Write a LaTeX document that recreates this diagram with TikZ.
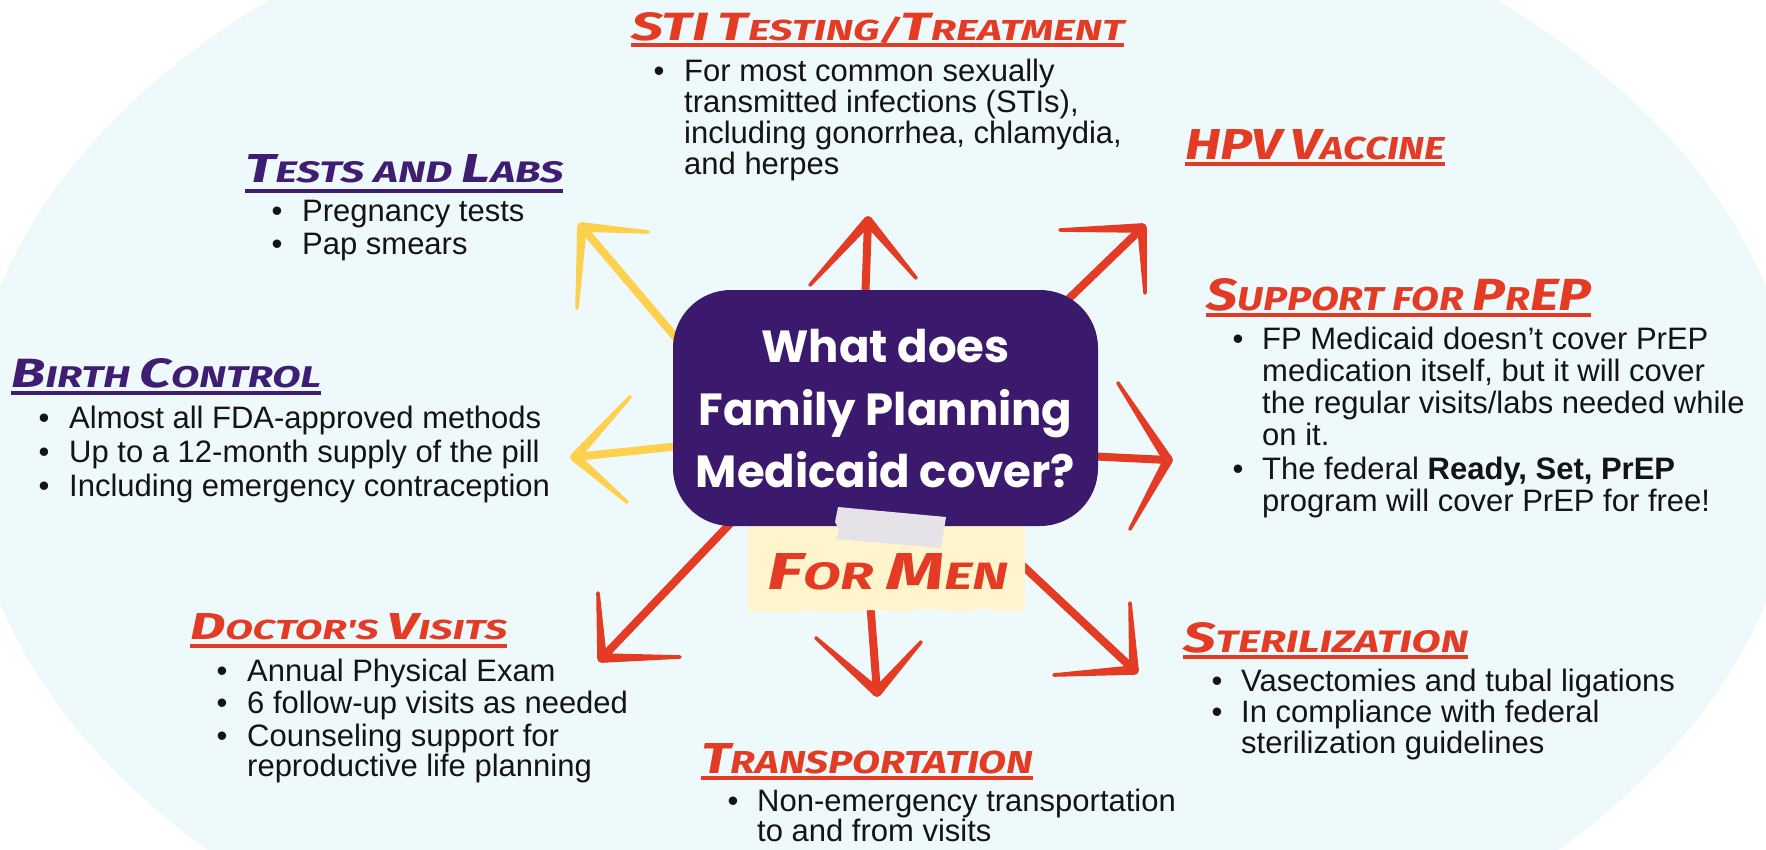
\documentclass[tikz,border=0pt]{standalone}
\usepackage{fontspec}
\usepackage{graphicx}
\usetikzlibrary{calc}
\setmainfont{Liberation Sans}
\newfontfamily\ttlfont{Fira Sans}
\newfontfamily\boxfont{Poppins}
\definecolor{bgblue}{HTML}{EEF9FC}
\definecolor{purp}{HTML}{3B1A6E}
\definecolor{ttlpurp}{HTML}{3F1D73}
\definecolor{brred}{HTML}{E33B24}
\definecolor{bryel}{HTML}{FDD04E}
\definecolor{notey}{HTML}{FFF5CC}
\definecolor{tapeg}{HTML}{E5E3E7}
\definecolor{ink}{HTML}{141414}
\newcommand\bodyfs{\fontsize{31}{34}\selectfont}
\newcommand\bgl[1]{{\fontsize{30}{30}\selectfont #1}}
\newcommand\ttl[3]{\resizebox{#1}{#2}{\ttlfont\bfseries\itshape\fontsize{22}{22}\selectfont #3}}
\newcommand\brusharm[3]{%
  \fill[#1] ($(#2)!4.8pt!90:(#3)$) -- ($(#3)!1.8pt!-90:(#2)$) -- ($(#3)!1.8pt!90:(#2)$) -- ($(#2)!4.8pt!-90:(#3)$) -- cycle;
  \fill[#1] (#2) circle[radius=4.8pt];
  \fill[#1] (#3) circle[radius=1.8pt];}
\begin{document}
\begin{tikzpicture}[x=1pt,y=-1pt,
  bodyline/.style={anchor=base west, inner sep=0pt, text=ink, font=\bodyfs},
  bulletdot/.style={anchor=base, inner sep=0pt, text=ink, font=\bodyfs},
  ttlnode/.style={anchor=base west, inner sep=0pt},
  boxline/.style={anchor=base, inner sep=0pt, text=white, font=\boxfont\bfseries\fontsize{45}{50}\selectfont},
  shaftred/.style={draw=brred, line width=8pt, line cap=round},
  shaftyel/.style={draw=bryel, line width=8pt, line cap=round},
  ulred/.style={draw=brred, line width=3.5pt},
  ulpurp/.style={draw=ttlpurp, line width=3.5pt}]
\useasboundingbox (0,0) rectangle (1766,849);
\fill[white] (0,0) rectangle (1766,849);
\fill[bgblue] (883,445) ellipse [x radius=915pt, y radius=600pt];

% ---------- arrows ----------
\coordinate (yA0) at (688,352); \coordinate (yA) at (582,227);
\coordinate (yA1) at (648,232); \coordinate (yA2) at (577,308);
\draw[shaftyel] (yA0) -- (yA); \brusharm{bryel}{yA}{yA1} \brusharm{bryel}{yA}{yA2}

\coordinate (yB0) at (690,445); \coordinate (yB) at (575,457);
\coordinate (yB1) at (630,397); \coordinate (yB2) at (627,502);
\draw[shaftyel] (yB0) -- (yB); \brusharm{bryel}{yB}{yB1} \brusharm{bryel}{yB}{yB2}

\coordinate (rA0) at (865,305); \coordinate (rA) at (868,221);
\coordinate (rA1) at (810,285); \coordinate (rA2) at (916,278);
\draw[shaftred] (rA0) -- (rA); \brusharm{brred}{rA}{rA1} \brusharm{brred}{rA}{rA2}

\coordinate (rB0) at (1055,312); \coordinate (rB) at (1142,228);
\coordinate (rB1) at (1060,230); \coordinate (rB2) at (1145,293);
\draw[shaftred] (rB0) -- (rB); \brusharm{brred}{rB}{rB1} \brusharm{brred}{rB}{rB2}

\coordinate (rC0) at (1085,456); \coordinate (rC) at (1168,460);
\coordinate (rC1) at (1118,383); \coordinate (rC2) at (1130,529);
\draw[shaftred] (rC0) -- (rC); \brusharm{brred}{rC}{rC1} \brusharm{brred}{rC}{rC2}

\coordinate (rD0) at (745,508); \coordinate (rD) at (602,658);
\coordinate (rD1) at (598,593); \coordinate (rD2) at (680,657);
\draw[shaftred] (rD0) -- (rD); \brusharm{brred}{rD}{rD1} \brusharm{brred}{rD}{rD2}

\coordinate (rE0) at (870,600); \coordinate (rE) at (877,692);
\coordinate (rE1) at (816,638); \coordinate (rE2) at (921,642);
\draw[shaftred] (rE0) -- (rE); \brusharm{brred}{rE}{rE1} \brusharm{brred}{rE}{rE2}

\coordinate (rF0) at (990,535); \coordinate (rF) at (1134,670);
\coordinate (rF1) at (1130,603); \coordinate (rF2) at (1054,675);
\draw[shaftred] (rF0) -- (rF); \brusharm{brred}{rF}{rF1} \brusharm{brred}{rF}{rF2}

% ---------- centre ----------
\fill[notey] (748,500) -- (1025,500) -- (1025,610) -- (1000,611) -- (985,608) -- (960,612) -- (930,609) -- (900,612) -- (870,610) -- (840,613) -- (810,610) -- (785,614) -- (765,611) -- (748,613) -- cycle;
\coordinate (note) at (886,556);
\node[fill=purp, rounded corners=58pt, minimum width=425pt, minimum height=236pt, inner sep=0pt] (hub) at (885.5,408) {};
\fill[tapeg] (838,507) -- (946,517) -- (941,548) -- (836,539) -- (839,530) -- (835,522) -- cycle;
\node[boxline] (h1) at (885.5,362) {What does};
\node[boxline] (h2) at (885.5,425) {Family Planning};
\node[boxline] (h3) at (885.5,487) {Medicaid cover?};
\node[ttlnode, text=brred] (formen) at (767,589) {\ttl{241pt}{36pt}{\bgl{F}OR \bgl{M}EN}};

% ---------- STI ----------
\node[ttlnode, text=brred] (tSTI) at (631,40) {\ttl{493pt}{28pt}{\bgl{STI} \bgl{T}ESTING/\bgl{T}REATMENT}};
\draw[ulred] ($(tSTI.base west)+(0,5)$) -- ($(tSTI.base east)+(0,5)$);
\node[bulletdot] (bS) at (659,81) {•};
\node[bodyline] (s1) at (684,81) {For most common sexually};
\node[bodyline] (s2) at (684,112) {transmitted infections (STIs),};
\node[bodyline] (s3) at (684,143) {including gonorrhea, chlamydia,};
\node[bodyline] (s4) at (684,174) {and herpes};

% ---------- Tests ----------
\node[ttlnode, text=ttlpurp] (tTL) at (245,182) {\ttl{318pt}{28pt}{\bgl{T}ESTS AND \bgl{L}ABS}};
\draw[ulpurp] ($(tTL.base west)+(0,9)$) -- ($(tTL.base east)+(0,9)$);
\node[bulletdot] (bT1) at (277,221) {•};
\node[bodyline] (t1) at (302,221) {Pregnancy tests};
\node[bulletdot] (bT2) at (277,254) {•};
\node[bodyline] (t2) at (302,254) {Pap smears};

% ---------- HPV ----------
\node[ttlnode, text=brred] (tHPV) at (1185,159) {\ttl{260pt}{30pt}{\bgl{HPV} \bgl{V}ACCINE}};
\draw[ulred] ($(tHPV.base west)+(0,5)$) -- ($(tHPV.base east)+(0,5)$);

% ---------- PrEP ----------
\node[ttlnode, text=brred] (tPR) at (1206,310) {\ttl{385pt}{32pt}{\bgl{S}UPPORT FOR \bgl{P}R\bgl{EP}}};
\draw[ulred] ($(tPR.base west)+(0,5)$) -- ($(tPR.base east)+(0,5)$);
\node[bulletdot] (bP1) at (1238,349) {•};
\node[bodyline] (p1) at (1262,349) {FP Medicaid doesn't cover PrEP};
\node[bodyline] (p2) at (1262,381) {medication itself, but it will cover};
\node[bodyline] (p3) at (1262,413) {the regular visits/labs needed while};
\node[bodyline] (p4) at (1262,445) {on it.};
\node[bulletdot] (bP2) at (1238,479) {•};
\node[bodyline] (p5) at (1262,479) {The federal \textbf{Ready, Set, PrEP}};
\node[bodyline] (p6) at (1262,511) {program will cover PrEP for free!};

% ---------- Birth control ----------
\node[ttlnode, text=ttlpurp] (tBC) at (11,387) {\ttl{310pt}{29pt}{\bgl{B}IRTH \bgl{C}ONTROL}};
\draw[ulpurp] ($(tBC.base west)+(0,6)$) -- ($(tBC.base east)+(0,6)$);
\node[bulletdot] (bB1) at (44,428) {•};
\node[bodyline] (c1) at (69,428) {Almost all FDA-approved methods};
\node[bulletdot] (bB2) at (44,462) {•};
\node[bodyline] (c2) at (69,462) {Up to a 12-month supply of the pill};
\node[bulletdot] (bB3) at (44,496) {•};
\node[bodyline] (c3) at (69,496) {Including emergency contraception};

% ---------- Doctor ----------
\node[ttlnode, text=brred] (tDV) at (190,639) {\ttl{317pt}{26pt}{\bgl{D}OCTOR'S \bgl{V}ISITS}};
\draw[ulred] ($(tDV.base west)+(0,7)$) -- ($(tDV.base east)+(0,7)$);
\node[bulletdot] (bD1) at (222,681) {•};
\node[bodyline] (d1) at (247,681) {Annual Physical Exam};
\node[bulletdot] (bD2) at (222,713) {•};
\node[bodyline] (d2) at (247,713) {6 follow-up visits as needed};
\node[bulletdot] (bD3) at (222,746) {•};
\node[bodyline] (d3) at (247,746) {Counseling support for};
\node[bodyline] (d4) at (247,776) {reproductive life planning};

% ---------- Transportation ----------
\node[ttlnode, text=brred] (tTR) at (701,773) {\ttl{332pt}{30pt}{\bgl{T}RANSPORTATION}};
\draw[ulred] ($(tTR.base west)+(0,5)$) -- ($(tTR.base east)+(0,5)$);
\node[bulletdot] (bR1) at (733,811) {•};
\node[bodyline] (r1) at (757,811) {Non-emergency transportation};
\node[bodyline] (r2) at (757,841) {to and from visits};

% ---------- Sterilization ----------
\node[ttlnode, text=brred] (tST) at (1183,652) {\ttl{285pt}{30pt}{\bgl{S}TERILIZATION}};
\draw[ulred] ($(tST.base west)+(0,5)$) -- ($(tST.base east)+(0,5)$);
\node[bulletdot] (bZ1) at (1217,691) {•};
\node[bodyline] (z1) at (1241,691) {Vasectomies and tubal ligations};
\node[bulletdot] (bZ2) at (1217,722) {•};
\node[bodyline] (z2) at (1241,722) {In compliance with federal};
\node[bodyline] (z3) at (1241,753) {sterilization guidelines};
\end{tikzpicture}
\end{document}
